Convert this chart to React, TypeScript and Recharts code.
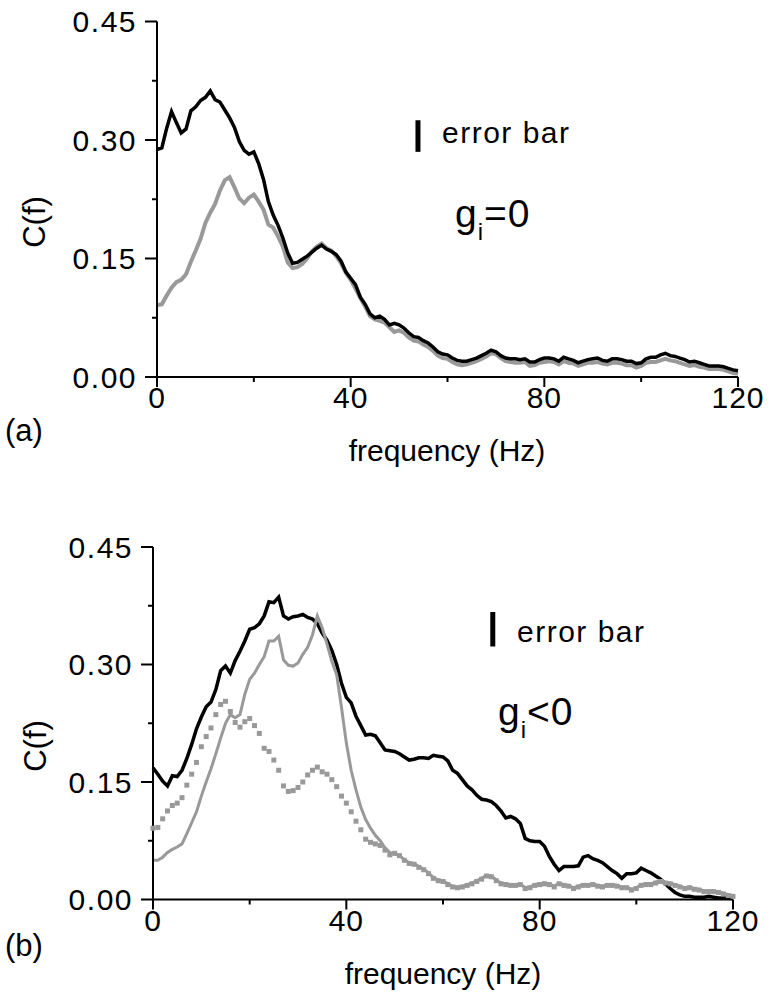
import React from 'react';
import { LineChart, Line, XAxis, YAxis, ReferenceLine, Customized } from 'recharts';

// frequency (Hz), sampled every 1 Hz
const FREQ = [
  0, 1, 2, 3, 4, 5, 6, 7, 8, 9, 10, 11, 12, 13, 14, 15, 16, 17, 18, 19, 20,
  21, 22, 23, 24, 25, 26, 27, 28, 29, 30, 31, 32, 33, 34, 35, 36, 37, 38, 39, 40,
  41, 42, 43, 44, 45, 46, 47, 48, 49, 50, 51, 52, 53, 54, 55, 56, 57, 58, 59, 60,
  61, 62, 63, 64, 65, 66, 67, 68, 69, 70, 71, 72, 73, 74, 75, 76, 77, 78, 79, 80,
  81, 82, 83, 84, 85, 86, 87, 88, 89, 90, 91, 92, 93, 94, 95, 96, 97, 98, 99, 100,
  101, 102, 103, 104, 105, 106, 107, 108, 109, 110, 111, 112, 113, 114, 115, 116, 117, 118, 119, 120,
];

// panel (a), g_i = 0 : black curve
const A_BLACK = [
  0.288, 0.290, 0.315, 0.336, 0.322, 0.309, 0.314, 0.337, 0.342, 0.350, 0.354,
  0.362, 0.351, 0.348, 0.338, 0.328, 0.316, 0.298, 0.287, 0.282, 0.285,
  0.270, 0.250, 0.222, 0.205, 0.192, 0.176, 0.157, 0.144, 0.145, 0.149,
  0.153, 0.158, 0.163, 0.167, 0.162, 0.159, 0.155, 0.147, 0.133, 0.125,
  0.117, 0.101, 0.092, 0.080, 0.075, 0.077, 0.073, 0.066, 0.068, 0.066,
  0.062, 0.056, 0.051, 0.050, 0.046, 0.043, 0.038, 0.032, 0.029, 0.028,
  0.024, 0.021, 0.020, 0.020, 0.022, 0.024, 0.027, 0.030, 0.034, 0.032,
  0.027, 0.024, 0.023, 0.023, 0.022, 0.023, 0.019, 0.019, 0.022, 0.024,
  0.024, 0.023, 0.020, 0.025, 0.023, 0.021, 0.018, 0.020, 0.022, 0.023,
  0.024, 0.021, 0.020, 0.023, 0.023, 0.022, 0.020, 0.020, 0.017, 0.018,
  0.023, 0.025, 0.025, 0.028, 0.030, 0.027, 0.026, 0.024, 0.022, 0.019,
  0.020, 0.018, 0.016, 0.014, 0.014, 0.014, 0.013, 0.011, 0.009, 0.008,
];

// panel (a), g_i = 0 : gray curve (also drawn as squares in panel (b))
const A_GRAY = [
  0.091, 0.092, 0.103, 0.113, 0.120, 0.123, 0.130, 0.146, 0.160, 0.175, 0.195,
  0.208, 0.219, 0.236, 0.249, 0.253, 0.240, 0.226, 0.220, 0.227, 0.231,
  0.222, 0.212, 0.193, 0.189, 0.178, 0.165, 0.145, 0.138, 0.139, 0.143,
  0.150, 0.159, 0.165, 0.169, 0.163, 0.160, 0.153, 0.144, 0.132, 0.123,
  0.112, 0.100, 0.089, 0.077, 0.073, 0.071, 0.069, 0.063, 0.057, 0.059,
  0.056, 0.050, 0.046, 0.045, 0.041, 0.038, 0.033, 0.027, 0.024, 0.023,
  0.019, 0.016, 0.015, 0.016, 0.018, 0.020, 0.023, 0.026, 0.030, 0.029,
  0.024, 0.020, 0.019, 0.018, 0.018, 0.019, 0.014, 0.015, 0.018, 0.019,
  0.020, 0.019, 0.016, 0.020, 0.018, 0.017, 0.014, 0.016, 0.018, 0.018,
  0.019, 0.017, 0.016, 0.018, 0.018, 0.017, 0.015, 0.015, 0.012, 0.014,
  0.018, 0.019, 0.019, 0.021, 0.023, 0.021, 0.020, 0.018, 0.016, 0.014,
  0.015, 0.013, 0.012, 0.010, 0.010, 0.010, 0.009, 0.007, 0.005, 0.004,
];

// panel (b), g_i < 0 : black curve
const B_BLACK = [
  0.168, 0.160, 0.151, 0.145, 0.158, 0.157, 0.165, 0.180, 0.198, 0.218, 0.233,
  0.246, 0.252, 0.268, 0.292, 0.298, 0.289, 0.305, 0.317, 0.330, 0.345,
  0.347, 0.352, 0.362, 0.380, 0.379, 0.386, 0.362, 0.358, 0.361, 0.362,
  0.364, 0.360, 0.358, 0.352, 0.340, 0.331, 0.318, 0.300, 0.276, 0.258,
  0.251, 0.234, 0.222, 0.210, 0.211, 0.209, 0.200, 0.191, 0.190, 0.189,
  0.186, 0.182, 0.178, 0.179, 0.181, 0.181, 0.180, 0.184, 0.183, 0.182,
  0.177, 0.165, 0.161, 0.153, 0.145, 0.140, 0.133, 0.128, 0.127, 0.125,
  0.120, 0.113, 0.104, 0.106, 0.103, 0.097, 0.078, 0.075, 0.074, 0.074,
  0.068, 0.055, 0.045, 0.037, 0.042, 0.042, 0.042, 0.043, 0.054, 0.056,
  0.052, 0.050, 0.047, 0.042, 0.037, 0.033, 0.027, 0.033, 0.033, 0.034,
  0.040, 0.037, 0.034, 0.030, 0.026, 0.020, 0.014, 0.009, 0.006, 0.004,
  0.004, 0.003, 0.003, 0.003, 0.004, 0.003, 0.002, 0.002, 0.002, 0.001,
];

// panel (b), g_i < 0 : solid gray curve
const B_GRAY = [
  0.050, 0.050, 0.054, 0.060, 0.064, 0.067, 0.071, 0.084, 0.098, 0.112, 0.132,
  0.150, 0.167, 0.186, 0.206, 0.225, 0.236, 0.232, 0.236, 0.262, 0.281,
  0.289, 0.300, 0.310, 0.330, 0.330, 0.336, 0.306, 0.299, 0.298, 0.302,
  0.313, 0.322, 0.338, 0.362, 0.347, 0.326, 0.304, 0.287, 0.245, 0.200,
  0.165, 0.140, 0.118, 0.102, 0.091, 0.082, 0.075, 0.066, 0.060, 0.058,
  0.056, 0.051, 0.047, 0.046, 0.042, 0.039, 0.034, 0.028, 0.025, 0.024,
  0.020, 0.017, 0.016, 0.017, 0.019, 0.021, 0.024, 0.027, 0.031, 0.030,
  0.025, 0.021, 0.020, 0.019, 0.019, 0.020, 0.015, 0.016, 0.019, 0.020,
  0.021, 0.020, 0.017, 0.021, 0.019, 0.018, 0.015, 0.017, 0.019, 0.019,
  0.020, 0.018, 0.017, 0.019, 0.019, 0.018, 0.016, 0.016, 0.013, 0.015,
  0.019, 0.020, 0.020, 0.022, 0.024, 0.022, 0.021, 0.019, 0.017, 0.015,
  0.016, 0.014, 0.013, 0.011, 0.011, 0.011, 0.010, 0.008, 0.006, 0.005,
];

const X_TICKS = [0, 20, 40, 60, 80, 100, 120];
const X_LABELED = [0, 40, 80, 120];
const Y_TICKS = [0, 0.075, 0.15, 0.225, 0.3, 0.375, 0.45];
const Y_LABELED = [0, 0.15, 0.3, 0.45];

// error-bar markers: [frequency, low C, high C]
const ERR_A = [53.9, 0.285, 0.325];
const ERR_B = [70.3, 0.323, 0.367];

const FONT = '"Liberation Sans", Arial, Helvetica, sans-serif';
const GRAY = '#999999';

const rowsA = FREQ.map((f, i) => ({ f, black: A_BLACK[i], gray: A_GRAY[i] }));
const rowsB = FREQ.map((f, i) => ({ f, black: B_BLACK[i], gray: B_GRAY[i], ref: A_GRAY[i] }));

function XTick(props: any) {
  const { x, y, payload } = props;
  const major = X_LABELED.includes(payload.value);
  return (
    <g>
      <line x1={x} x2={x} y1={y} y2={y + (major ? 10 : 5)} stroke="#000" strokeWidth={2} />
      {major && (
        <text x={x} y={y + 31} textAnchor="middle" fontSize={30} fontFamily={FONT} fill="#000" letterSpacing={1}>
          {payload.value}
        </text>
      )}
    </g>
  );
}

function YTick(props: any) {
  const { x, y, payload } = props;
  const v = Number(payload.value);
  const major = Y_LABELED.some((m) => Math.abs(m - v) < 1e-6);
  return (
    <g>
      <line x1={x - (major ? 12 : 5)} x2={x} y1={y} y2={y} stroke="#000" strokeWidth={2} />
      {major && (
        <text x={x - 20} y={y + 10.7} textAnchor="end" fontSize={30} fontFamily={FONT} fill="#000" letterSpacing={1.5}>
          {v.toFixed(2)}
        </text>
      )}
    </g>
  );
}

function SquareDot(props: any) {
  const { cx, cy } = props;
  if (cx == null || cy == null) return null;
  return <rect x={cx - 2.5} y={cy - 2.5} width={5} height={5} fill={GRAY} />;
}

function TextsA() {
  return (
    <g fontFamily={FONT} fill="#000">
      <text x={442} y={143} fontSize={30} letterSpacing={1.5}>error bar</text>
      <text x={455} y={227} fontSize={39} letterSpacing={1}>
        g<tspan fontSize={24} dy={13}>i</tspan>
        <tspan fontSize={39} dy={-13}>=0</tspan>
      </text>
      <text transform="translate(34,222) rotate(-90)" textAnchor="middle" dy="0.35em" fontSize={31}>C(f)</text>
      <text x={5} y={441} fontSize={31}>(a)</text>
      <text x={447} y={461} textAnchor="middle" fontSize={30}>frequency (Hz)</text>
    </g>
  );
}

function TextsB() {
  return (
    <g fontFamily={FONT} fill="#000">
      <text x={517} y={142} fontSize={30} letterSpacing={1.5}>error bar</text>
      <text x={498} y={225} fontSize={39} letterSpacing={1}>
        g<tspan fontSize={24} dy={13}>i</tspan>
        <tspan fontSize={39} dy={-13}>&lt;0</tspan>
      </text>
      <text transform="translate(35,246) rotate(-90)" textAnchor="middle" dy="0.35em" fontSize={31}>C(f)</text>
      <text x={5} y={456} fontSize={31}>(b)</text>
      <text x={443} y={484} textAnchor="middle" fontSize={30}>frequency (Hz)</text>
    </g>
  );
}

const axisLine = { stroke: '#000', strokeWidth: 2 };

export default function App() {
  return (
    <div style={{ position: 'absolute', left: 0, top: 0, width: 770, height: 1006, background: '#fff' }}>
      <div style={{ position: 'absolute', left: 0, top: 0 }}>
        <LineChart width={770} height={500} data={rowsA} margin={{ top: 21.5, right: 32, bottom: 0, left: 0 }}>
          <XAxis
            type="number"
            dataKey="f"
            domain={[0, 120]}
            ticks={X_TICKS}
            interval={0}
            tick={<XTick />}
            tickLine={false}
            tickSize={0}
            tickMargin={0}
            axisLine={axisLine}
            height={123}
          />
          <YAxis
            type="number"
            domain={[0, 0.45]}
            ticks={Y_TICKS}
            interval={0}
            tick={<YTick />}
            tickLine={false}
            tickSize={0}
            tickMargin={0}
            axisLine={axisLine}
            width={157}
          />
          <Line type="linear" dataKey="gray" stroke={GRAY} strokeWidth={4} dot={false} isAnimationActive={false} />
          <Line type="linear" dataKey="black" stroke="#000" strokeWidth={3.5} dot={false} isAnimationActive={false} />
          <ReferenceLine
            segment={[{ x: ERR_A[0], y: ERR_A[1] }, { x: ERR_A[0], y: ERR_A[2] }]}
            stroke="#000"
            strokeWidth={5}
          />
          <Customized component={<TextsA />} />
        </LineChart>
      </div>
      <div style={{ position: 'absolute', left: 0, top: 500 }}>
        <LineChart width={770} height={506} data={rowsB} margin={{ top: 47, right: 37, bottom: 0, left: 0 }}>
          <XAxis
            type="number"
            dataKey="f"
            domain={[0, 120]}
            ticks={X_TICKS}
            interval={0}
            tick={<XTick />}
            tickLine={false}
            tickSize={0}
            tickMargin={0}
            axisLine={axisLine}
            height={106.5}
          />
          <YAxis
            type="number"
            domain={[0, 0.45]}
            ticks={Y_TICKS}
            interval={0}
            tick={<YTick />}
            tickLine={false}
            tickSize={0}
            tickMargin={0}
            axisLine={axisLine}
            width={153}
          />
          <Line type="linear" dataKey="black" stroke="#000" strokeWidth={3.5} dot={false} isAnimationActive={false} />
          <Line type="linear" dataKey="gray" stroke={GRAY} strokeWidth={3} dot={false} isAnimationActive={false} />
          <Line type="linear" dataKey="ref" stroke="none" strokeWidth={0} dot={<SquareDot />} isAnimationActive={false} />
          <ReferenceLine
            segment={[{ x: ERR_B[0], y: ERR_B[1] }, { x: ERR_B[0], y: ERR_B[2] }]}
            stroke="#000"
            strokeWidth={5}
          />
          <Customized component={<TextsB />} />
        </LineChart>
      </div>
    </div>
  );
}
